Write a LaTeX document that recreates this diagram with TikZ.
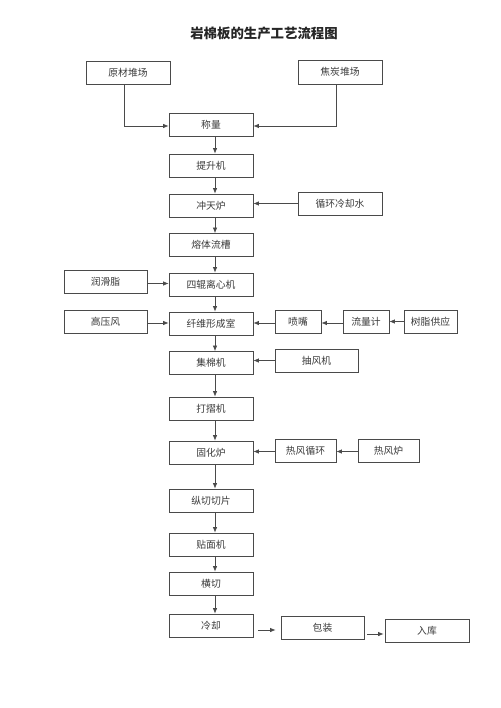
\documentclass[tikz,border=0pt]{standalone}
\usepackage{fontspec}
\setmainfont{Liberation Serif}
\newfontfamily\cjk{Noto Sans CJK SC}
\usetikzlibrary{arrows.meta}
\definecolor{ln}{HTML}{4A4A4A}
\definecolor{tx}{HTML}{3A3A3A}
\begin{document}
\begin{tikzpicture}[x=1pt,y=-1pt,
  box/.style={draw=ln,line width=0.8pt,minimum height=23pt,inner sep=0pt,text=tx,font=\cjk\fontsize{9.8}{11}\selectfont},
  wA/.style={minimum width=84pt},
  arr/.style={draw=ln,line width=0.7pt,-{Latex[length=5.5pt,width=4.5pt]}}]
\useasboundingbox[fill=white] (0,0) rectangle (500,708);
\node[font=\cjk\bfseries\fontsize{13.4}{15}\selectfont,text=black!85] (title) at (264,33) {岩棉板的生产工艺流程图};
\node[box,wA] (ycdc) at (128,72.5) {原材堆场};
\node[box,wA,minimum height=24pt] (jtdc) at (340,72) {焦炭堆场};
\node[box,wA] (cl) at (211,124.5) {称量};
\node[box,wA] (ssj) at (211,165.5) {提升机};
\node[box,wA] (ctl) at (211,205.5) {冲天炉};
\node[box,wA] (xhls) at (340,203.5) {循环冷却水};
\node[box,wA] (rtlc) at (211,245) {熔体流槽};
\node[box,minimum width=83pt] (rhz) at (105.5,282) {润滑脂};
\node[box,wA] (sglx) at (211,284.5) {四辊离心机};
\node[box,minimum width=83pt] (gyf) at (105.5,321.5) {高压风};
\node[box,wA] (xwxc) at (211,323.5) {纤维形成室};
\node[box,minimum width=46pt] (pz) at (298,321.5) {喷嘴};
\node[box,minimum width=46pt] (llj) at (366,321.5) {流量计};
\node[box,minimum width=53pt] (szgy) at (430.5,321.5) {树脂供应};
\node[box,wA] (jmj) at (211,363) {集棉机};
\node[box,minimum width=83pt] (cfj) at (316.5,360.5) {抽风机};
\node[box,wA] (dzj) at (211,408.5) {打摺机};
\node[box,wA] (ghl) at (211,452.5) {固化炉};
\node[box,minimum width=61pt] (rfxh) at (305.5,450.5) {热风循环};
\node[box,minimum width=61pt] (rfl) at (388.5,450.5) {热风炉};
\node[box,wA] (zqqp) at (211,500.5) {纵切切片};
\node[box,wA] (tmj) at (211,544.5) {贴面机};
\node[box,wA] (hq) at (211,583.5) {横切};
\node[box,wA] (lq) at (211,625.5) {冷却};
\node[box,minimum width=83pt] (bz) at (322.5,628) {包装};
\node[box,wA] (rk) at (427,630.5) {入库};
% feeds into weighing
\draw[arr] ([xshift=-4pt]ycdc.south) |- ([yshift=-1.5pt]cl.west);
\draw[arr] ([xshift=-4pt]jtdc.south) |- ([yshift=-1.5pt]cl.east);
% main vertical chain
\foreach \a/\b in {cl/ssj,ssj/ctl,ctl/rtlc,rtlc/sglx,sglx/xwxc,xwxc/jmj,jmj/dzj,dzj/ghl,ghl/zqqp,zqqp/tmj,tmj/hq,hq/lq}
  \draw[arr] ([xshift=4pt]\a.south) -- ([xshift=4pt]\b.north);
% side inputs
\draw[arr] (xhls.west) -- (xhls.west -| ctl.east);
\draw[arr] ([yshift=-1.5pt]rhz.east) -- ([yshift=-1.5pt]rhz.east -| sglx.west);
\draw[arr] ([yshift=-1.5pt]gyf.east) -- ([yshift=-1.5pt]gyf.east -| xwxc.west);
\draw[arr] ([yshift=-1.5pt]pz.west) -- ([yshift=-1.5pt]pz.west -| xwxc.east);
\draw[arr] ([yshift=-1.5pt]llj.west) -- ([yshift=-1.5pt]llj.west -| pz.east);
\draw[arr] (szgy.west) -- (szgy.west -| llj.east);
\draw[arr] (cfj.west) -- (cfj.west -| jmj.east);
\draw[arr] ([yshift=-1pt]rfxh.west) -- ([yshift=-1pt]rfxh.west -| ghl.east);
\draw[arr] ([yshift=-1pt]rfl.west) -- ([yshift=-1pt]rfl.west -| rfxh.east);
% final chain
\draw[arr,shorten <=5pt,shorten >=5pt] ([yshift=-2pt]bz.west -| lq.east) -- ([yshift=-2pt]bz.west);
\draw[arr,shorten <=3pt,shorten >=1pt] ([yshift=-3.5pt]rk.west -| bz.east) -- ([yshift=-3.5pt]rk.west);
\end{tikzpicture}
\end{document}
